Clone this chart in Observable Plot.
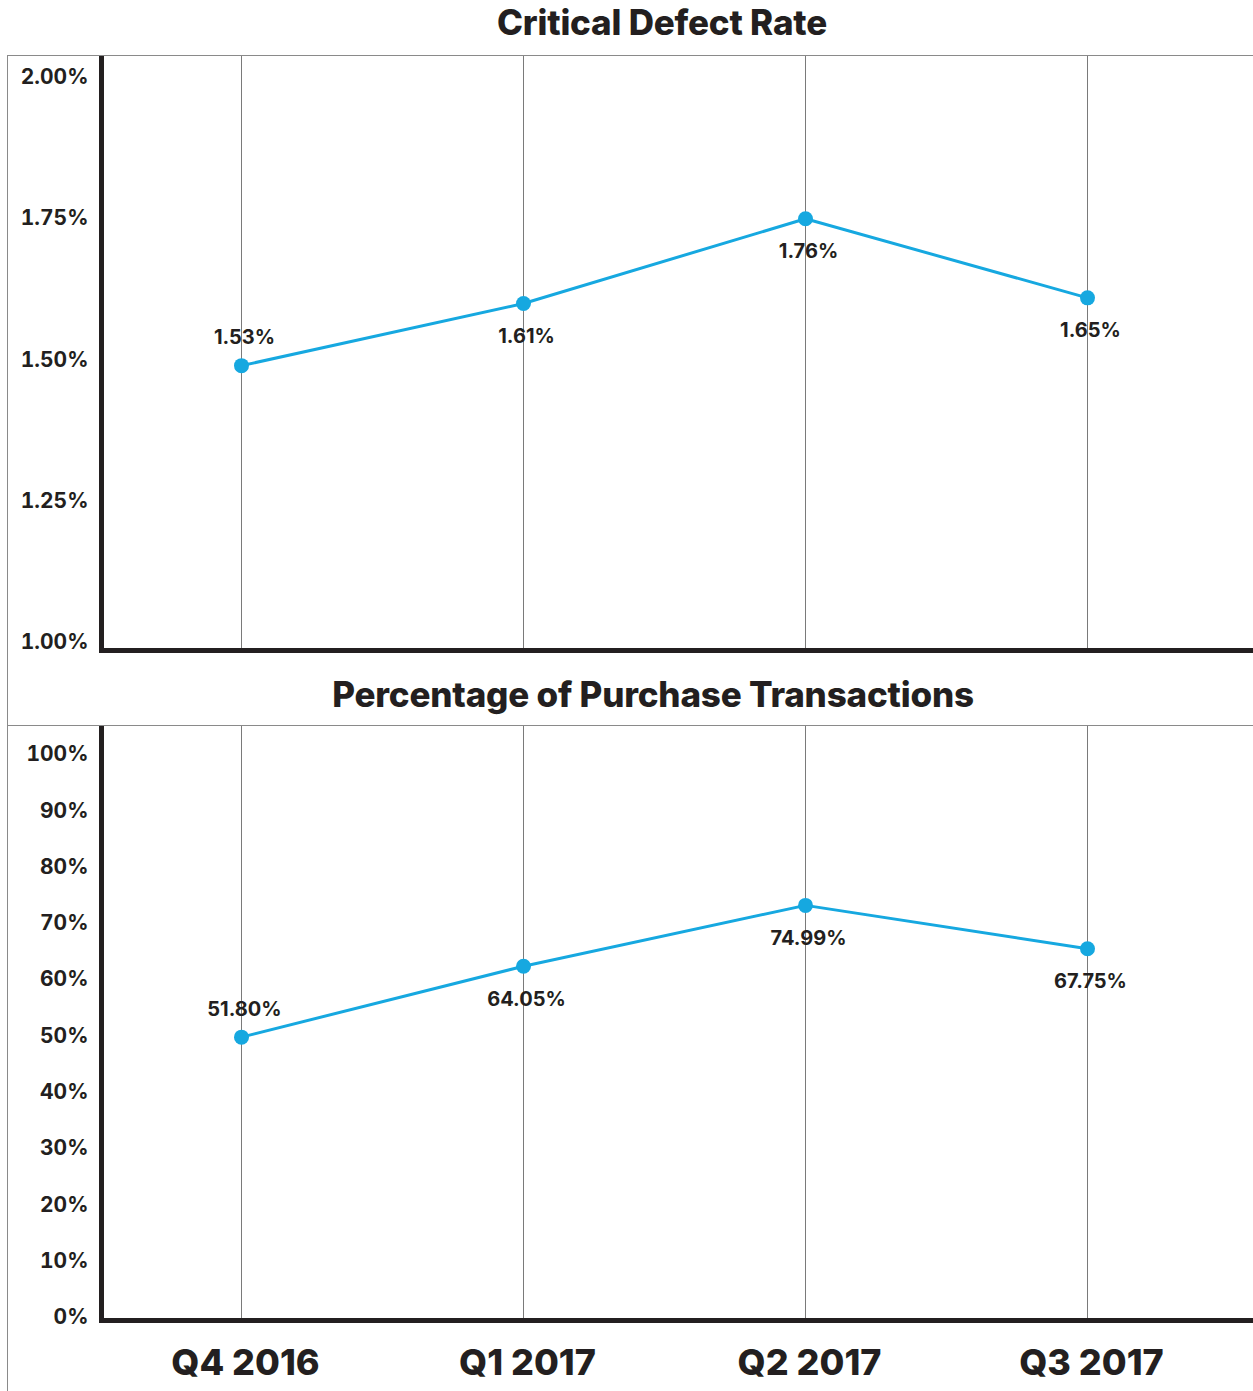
<!DOCTYPE html>
<html><head><meta charset="utf-8">
<script src="https://cdn.jsdelivr.net/npm/d3@7"></script>
<script src="https://cdn.jsdelivr.net/npm/@observablehq/plot@0.6"></script>
<style>
body{margin:0;background:#fff;}
#root{position:relative;width:1253px;height:1391px;overflow:hidden;font-family:Inter,"Open Sans",sans-serif;color:#231f20;}
.title{position:absolute;transform:translate(-50%,-50%);font-weight:800;white-space:nowrap;font-size:35px;line-height:1;letter-spacing:-0.2px;}
.frame{position:absolute;left:7px;top:55px;width:1246px;height:1336px;border-top:1px solid #8a8a8a;border-left:1px solid #8a8a8a;box-sizing:border-box;}
.sep{position:absolute;left:7px;top:725px;width:1246px;height:0;border-top:1px solid #8a8a8a;}
.panel{position:absolute;left:0;}
</style></head>
<body><div id="root">
<div class="frame"></div>
<div class="sep"></div>
<div class="title" id="t1" style="left:662px;top:22px;"></div>
<div class="title" id="t2" style="left:653px;top:694px;"></div>
<div class="panel" id="p1" style="top:56px;"></div>
<div class="panel" id="p2" style="top:726px;"></div>
</div>
<script>
const quarters = ["Q4 2016", "Q1 2017", "Q2 2017", "Q3 2017"];
const defectRate = [1.49, 1.60, 1.75, 1.61];
const defectLabels = ["1.53%", "1.61%", "1.76%", "1.65%"];
const purchasePct = [49.8, 62.4, 73.2, 65.5];
const purchaseLabels = ["51.80%", "64.05%", "74.99%", "67.75%"];
const defectTicks = [1.00, 1.25, 1.50, 1.75, 2.00];
const defectTickLabels = ["1.00%", "1.25%", "1.50%", "1.75%", "2.00%"];
const purchaseTicks = [0, 10, 20, 30, 40, 50, 60, 70, 80, 90, 100];
const purchaseTickLabels = ["0%", "10%", "20%", "30%", "40%", "50%", "60%", "70%", "80%", "90%", "100%"];
const titles = ["Critical Defect Rate", "Percentage of Purchase Transactions"];

document.getElementById("t1").textContent = titles[0];
document.getElementById("t2").textContent = titles[1];

const BLUE = "#16a8e0";
const INK = "#231f20";
const GRID = "#7a7a7a";

function panel({values, labels, ticks, tickLabels, domain, height, marginBottom, insetTop, insetBottom, showX}) {
  const rows = quarters.map((q, i) => ({q, v: values[i], label: labels[i], i}));
  const marks = [
    Plot.ruleX(quarters, {x: d => d, stroke: GRID, strokeWidth: 1}),
    Plot.line(rows, {x: "q", y: "v", stroke: BLUE, strokeWidth: 3}),
    Plot.dot(rows, {x: "q", y: "v", r: 7.5, fill: BLUE}),
    Plot.text(rows.filter(d => d.i === 0), {x: "q", y: "v", text: "label", dy: -28, dx: 3, fontSize: 20, fontWeight: 700, fill: INK}),
    Plot.text(rows.filter(d => d.i !== 0), {x: "q", y: "v", text: "label", dy: 33, dx: 3, fontSize: 20, fontWeight: 700, fill: INK}),
    Plot.axisY({ticks, tickFormat: d => tickLabels[ticks.indexOf(d)], tickSize: 0, tickPadding: 13, fontSize: 21, fontWeight: 700, label: null}),
    showX
      ? Plot.axisX({tickSize: 0, tickPadding: 29, dx: 4, fontSize: 36, fontWeight: 800, label: null})
      : Plot.axisX({ticks: [], label: null}),
    Plot.frame({anchor: "left", stroke: INK, strokeWidth: 5, strokeLinecap: "square"}),
    Plot.frame({anchor: "bottom", stroke: INK, strokeWidth: 5, strokeLinecap: "square"})
  ];
  return Plot.plot({
    width: 1253,
    height,
    marginLeft: 101,
    marginRight: 0,
    marginTop: 0,
    marginBottom,
    style: {fontFamily: "Inter, 'Open Sans', sans-serif", color: INK, background: "transparent"},
    x: {type: "point", domain: quarters, padding: 0, insetLeft: 139, insetRight: 166},
    y: {domain, insetTop, insetBottom},
    marks
  });
}

document.getElementById("p1").append(panel({
  values: defectRate, labels: defectLabels, ticks: defectTicks, tickLabels: defectTickLabels,
  domain: [1, 2], height: 600, marginBottom: 6, insetTop: 21, insetBottom: 8, showX: false
}));
document.getElementById("p2").append(panel({
  values: purchasePct, labels: purchaseLabels, ticks: purchaseTicks, tickLabels: purchaseTickLabels,
  domain: [0, 100], height: 665, marginBottom: 71, insetTop: 28, insetBottom: 3, showX: true
}));
</script>
</body></html>
